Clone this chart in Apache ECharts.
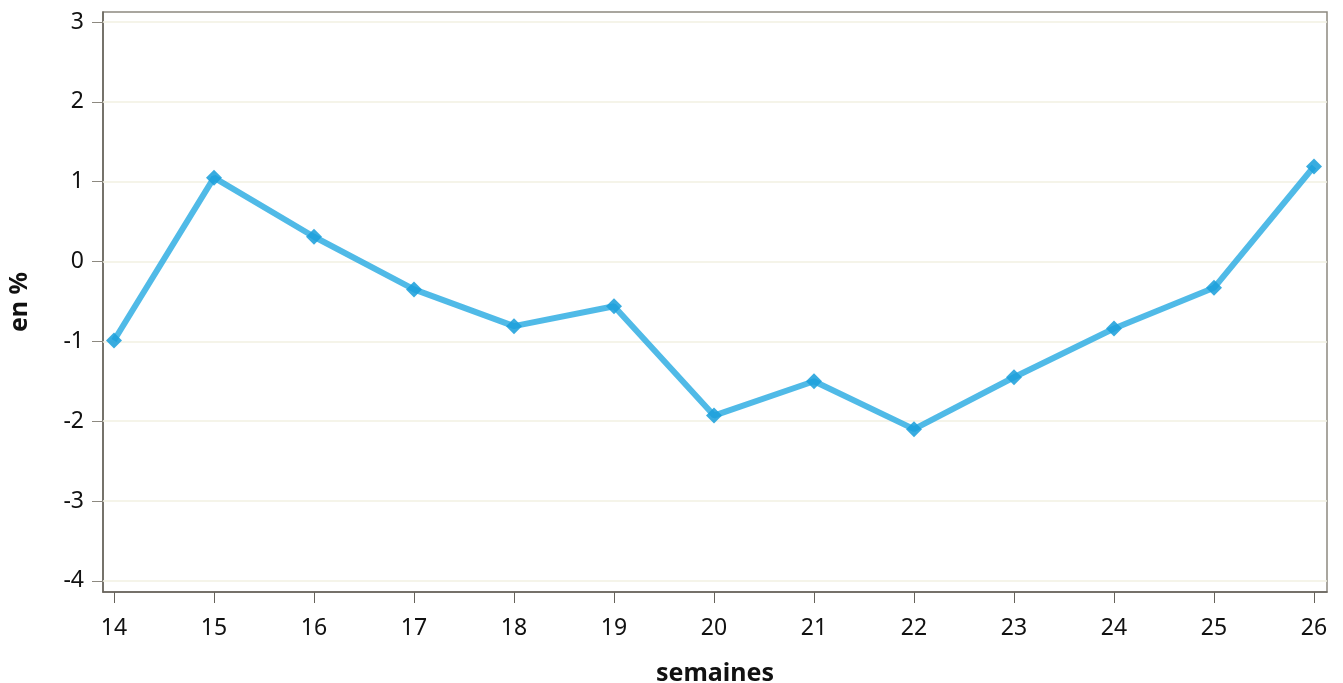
<!DOCTYPE html>
<html><head><meta charset="utf-8">
<script src="https://cdn.jsdelivr.net/npm/echarts@6/dist/echarts.min.js"></script>
<style>html,body{margin:0;padding:0;background:#fff}#c{width:1343px;height:683px}</style>
</head><body><div id="c"></div>
<script>
const weeks = [14,15,16,17,18,19,20,21,22,23,24,25,26];
const values = [-0.99,1.05,0.31,-0.35,-0.81,-0.56,-1.93,-1.50,-2.10,-1.45,-0.84,-0.33,1.19];
const yTicks = [-4,-3,-2,-1,0,1,2,3];
const xTicks = weeks;

const chart = echarts.init(document.getElementById('c'));
const font = '"Noto Sans", "Open Sans", sans-serif';
chart.setOption({
  animation:false,
  grid:{left:103,right:16,top:12,bottom:91,show:true,borderColor:'#8d8980',borderWidth:1.5,containLabel:false,outerBoundsMode:'none'},
  xAxis:{type:'value',min:13.89,max:26.13,
    name:'semaines',nameLocation:'middle',nameGap:69,
    nameTextStyle:{fontFamily:font,fontSize:25,fontWeight:'bold',color:'#111'},
    axisLine:{show:true,onZero:false,lineStyle:{color:'#66625a',width:1.5}},
    axisTick:{show:true,length:11,customValues:xTicks,lineStyle:{color:'#66625a'}},
    axisLabel:{customValues:xTicks,margin:25,fontFamily:font,fontSize:23,color:'#111'},
    splitLine:{show:false}},
  yAxis:{type:'value',min:-4.14,max:3.125,
    name:'en %',nameLocation:'middle',nameGap:71,nameRotate:90,
    nameTextStyle:{fontFamily:font,fontSize:25,fontWeight:'bold',color:'#111'},
    axisLine:{show:true,onZero:false,lineStyle:{color:'#66625a',width:1.5}},
    axisTick:{show:true,length:11,customValues:yTicks,lineStyle:{color:'#8d8980'}},
    axisLabel:{customValues:yTicks,margin:19,fontFamily:font,fontSize:23,color:'#111'},
    splitLine:{show:false}},
  series:[
    {type:'line',data:yTicks.map(v=>[13.89,v]),silent:true,symbol:'none',lineStyle:{width:0},
     markLine:{silent:true,symbol:'none',label:{show:false},lineStyle:{color:'#f2f0e2',width:1.5,type:'solid'},
       data:yTicks.map(v=>({yAxis:v}))}},
    {type:'line',data:weeks.map((w,i)=>[w,values[i]]),
     symbol:'diamond',symbolSize:16,
     lineStyle:{color:'rgba(41,171,226,0.82)',width:6},
     itemStyle:{color:'rgba(30,160,220,0.88)'},z:5}
  ]
});
</script></body></html>
